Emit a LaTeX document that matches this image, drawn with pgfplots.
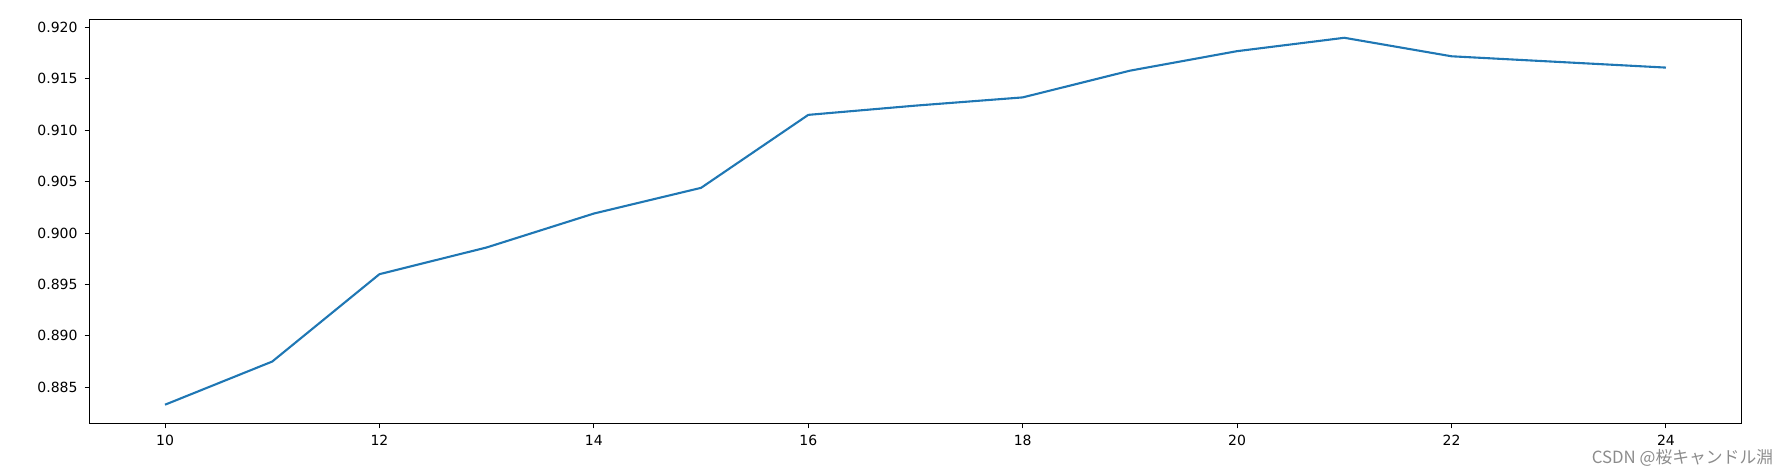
\documentclass[border=0pt]{standalone}
\usepackage{fontspec}
\setmainfont{DejaVu Sans}
\newfontfamily\cjk{Noto Sans CJK JP}
\usepackage{pgfplots}
\pgfplotsset{compat=1.18}
\definecolor{mplblue}{HTML}{1F77B4}
\begin{document}
\begin{tikzpicture}
\begin{axis}[
  scale only axis,
  width=825.5pt, height=201.75pt,
  xmin=9.3, xmax=24.7,
  ymin=0.88152, ymax=0.92078,
  xtick={10,12,...,24},
  ytick={0.885,0.890,0.895,0.900,0.905,0.910,0.915,0.920},
  tick align=outside,
  major tick length=2.7pt,
  tick style={black, line width=0.5pt},
  xtick pos=bottom, ytick pos=left,
  axis line style={black, line width=0.5pt},
  /pgf/number format/assume math mode=true,
  ticklabel style={font=\fontsize{7}{8.4}\selectfont},
  yticklabel style={/pgf/number format/.cd, fixed, fixed zerofill, precision=3},
  xticklabel style={/pgf/number format/.cd, fixed, precision=0},
  scaled y ticks=false,
  clip=false,
]
\addplot[mplblue, line width=1.05pt, line join=round] coordinates {
(10,0.8833) (11,0.8875) (12,0.8960) (13,0.8986) (14,0.9019) (15,0.9044)
(16,0.9115) (17,0.9124) (18,0.9132) (19,0.9158) (20,0.9177) (21,0.9190)
(22,0.9172) (24,0.9161)
};
\path (axis description cs:-0.05451,-0.13135) rectangle (axis description cs:1.02847,1.04833);
\node[anchor=base east, inner sep=0pt, text=black!45, font=\cjk\fontsize{8.4}{10}\selectfont] at (axis description cs:1.0197,-0.1016) {CSDN @桜キャンドル淵};
\end{axis}
\end{tikzpicture}
\end{document}
